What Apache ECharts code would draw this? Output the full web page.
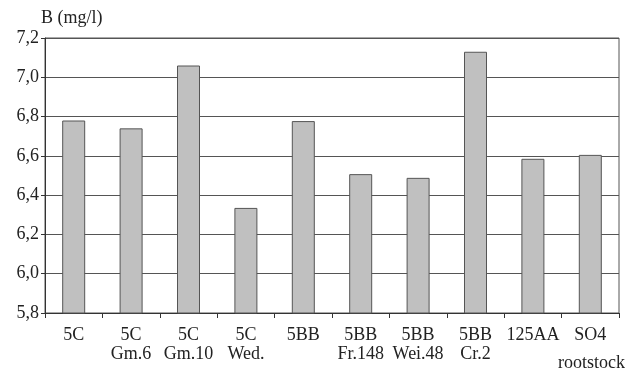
<!DOCTYPE html>
<html><head><meta charset="utf-8">
<script src="https://cdn.jsdelivr.net/npm/echarts@6/dist/echarts.min.js"></script>
<style>html,body{margin:0;padding:0;background:#fff}#c{width:633px;height:373px}</style>
</head><body><div id="c"></div>
<script>
const categories = ['5C', '5C\nGm.6', '5C\nGm.10', '5C\nWed.', '5BB', '5BB\nFr.148', '5BB\nWei.48', '5BB\nCr.2', '125AA', 'SO4'];
const values = [6.78, 6.74, 7.06, 6.335, 6.777, 6.507, 6.488, 7.13, 6.585, 6.605];
const yTicks = [5.8, 6.0, 6.2, 6.4, 6.6, 6.8, 7.0, 7.2];
const yTitle = 'B (mg/l)';
const xTitle = 'rootstock';

const font = 'Liberation Serif';
const chart = echarts.init(document.getElementById('c'), null, {renderer: 'canvas'});
chart.setOption({
  animation: false,
  backgroundColor: '#fff',
  grid: {left: 45, right: 14, top: 38, bottom: 60, show: true, borderColor: '#555', borderWidth: 1},
  xAxis: {
    type: 'category',
    data: categories,
    axisLine: {lineStyle: {color: '#333', width: 1}},
    axisTick: {show: true, length: 5, lineStyle: {color: '#333'}},
    axisLabel: {fontFamily: font, fontSize: 18, color: '#222', lineHeight: 19, margin: 13, interval: 0}
  },
  yAxis: {
    type: 'value',
    min: yTicks[0], max: yTicks[yTicks.length - 1], interval: 0.2,
    axisLine: {show: true, lineStyle: {color: '#333'}},
    axisTick: {show: true, length: 4, lineStyle: {color: '#333'}},
    axisLabel: {fontFamily: font, fontSize: 18, color: '#222', margin: 6,
      formatter: v => v.toFixed(1).replace('.', ',')},
    splitLine: {lineStyle: {color: '#555', width: 1}}
  },
  series: [{
    type: 'bar',
    data: values,
    barWidth: 23,
    itemStyle: {color: '#c0c0c0', borderColor: '#555', borderWidth: 1}
  }],
  graphic: [
    {type: 'text', left: 41, top: 9, style: {text: yTitle, font: '18px "Liberation Serif"', fill: '#222'}},
    {type: 'text', right: 8, top: 354, style: {text: xTitle, font: '18px "Liberation Serif"', fill: '#222'}}
  ]
});
</script></body></html>
